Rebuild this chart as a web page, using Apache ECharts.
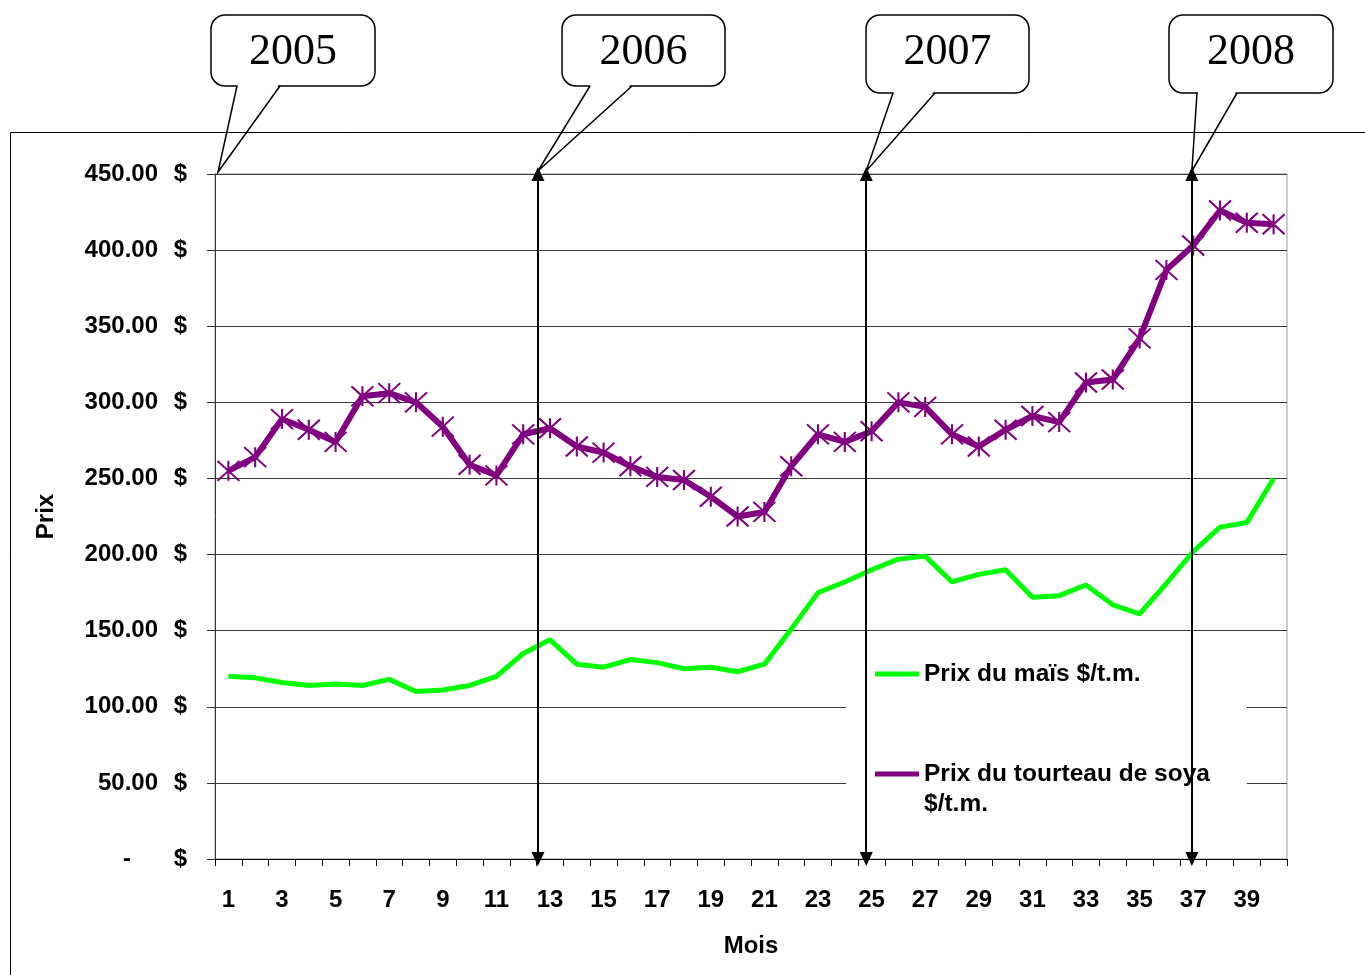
<!DOCTYPE html>
<html><head><meta charset="utf-8">
<script src="https://cdn.jsdelivr.net/npm/echarts@6/dist/echarts.min.js"></script>
<style>html,body{margin:0;padding:0;background:#fff}#c{width:1365px;height:975px}</style>
</head><body><div id="c"></div>
<script>
const months = [1,2,3,4,5,6,7,8,9,10,11,12,13,14,15,16,17,18,19,20,21,22,23,24,25,26,27,28,29,30,31,32,33,34,35,36,37,38,39,40];
const prixMais = [120,119,116,114,115,114,118,110,111,114,120,135,144,128,126,131,129,125,126,123,128,151,175,182,190,197,199,182,187,190,172,173,180,167,161,181,202,218,221,250];
const prixSoya = [255,264,289,282,274,304,306,300,284,259,252,279,283,271,267,258,251,249,238,225,228,258,279,274,281,300,297,279,271,282,291,287,313,315,342,387,403,426,418,417];
const yearLabels = ['2005','2006','2007','2008'];
const yearMarkerMonths = [12.55, 24.8, 36.95];
const nameMais = 'Prix du maïs $/t.m.';
const nameSoya = 'Prix du tourteau de soya $/t.m.';

const FONT = '"Liberation Sans", Arial, sans-serif';
const chart = echarts.init(document.getElementById('c'), null, {renderer:'canvas'});

const option = {
  animation: false,
  backgroundColor: '#fff',
  grid: {left: 215, right: 78, top: 174, bottom: 116, show: true, borderColor: '#999', borderWidth: 1, backgroundColor: 'transparent'},
  legend: {
    orient: 'vertical', left: 846, top: 645, backgroundColor: '#fff',
    padding: [14, 37, 20, 29], itemWidth: 44, itemHeight: 5, itemGap: 40,
    selectedMode: false,
    textStyle: {fontFamily: FONT, fontWeight: 'bold', fontSize: 24.5, color: '#000', lineHeight: 30},
    formatter: n => n === nameSoya ? '\nPrix du tourteau de soya\n$/t.m.' : n,
    data: [
      {name: nameMais, icon: 'rect', itemStyle: {color: '#00ff00', borderWidth: 0}},
      {name: nameSoya, icon: 'rect', itemStyle: {color: '#800080', borderWidth: 0}}
    ]
  },
  xAxis: [{
    type: 'category', data: months, boundaryGap: true,
    name: 'Mois', nameLocation: 'middle', nameGap: 75,
    nameTextStyle: {fontFamily: FONT, fontWeight: 'bold', fontSize: 24, color: '#000'},
    axisLine: {show: true, lineStyle: {color: '#000', width: 1}},
    axisTick: {show: true, interval: 0, length: 7, lineStyle: {color: '#000'}},
    axisLabel: {interval: 1, fontFamily: FONT, fontWeight: 'bold', fontSize: 24, color: '#000', margin: 29},
    splitLine: {show: false}
  }, {
    type: 'value', min: 0.5, max: 40.5, show: false
  }],
  yAxis: {
    type: 'value', min: 0, max: 450, interval: 50,
    name: 'Prix', nameLocation: 'middle', nameGap: 157, nameRotate: 90,
    nameTextStyle: {fontFamily: FONT, fontWeight: 'bold', fontSize: 24, color: '#000'},
    axisLine: {show: true, lineStyle: {color: '#333', width: 1}},
    axisTick: {show: true, length: 8, lineStyle: {color: '#333'}},
    splitLine: {show: true, lineStyle: {color: '#3a3a3a', width: 1}},
    axisLabel: {
      margin: 28,
      formatter: v => v === 0 ? '{z|-}{sp| }{c|$}' : '{n|' + v.toFixed(2) + '}{c|$}',
      rich: {
        n: {width: 100, align: 'right', fontFamily: FONT, fontWeight: 'bold', fontSize: 24, color: '#000'},
        z: {width: 73, align: 'right', fontFamily: FONT, fontWeight: 'bold', fontSize: 24, color: '#000'},
        sp: {width: 27, fontSize: 24},
        c: {width: 29, align: 'right', fontFamily: FONT, fontWeight: 'bold', fontSize: 24, color: '#000'}
      }
    }
  },
  series: [
    {
      name: nameMais, type: 'line', data: prixMais, symbol: 'none', z: 3,
      lineStyle: {color: '#00ff00', width: 5}, itemStyle: {color: '#00ff00'}
    },
    {
      name: nameSoya, type: 'line', data: prixSoya, z: 4,
      symbol: 'path://M0,0 L22,20 M22,0 L0,20 M11,0 L11,20', symbolSize: [22, 20], showAllSymbol: true,
      lineStyle: {color: '#800080', width: 6},
      itemStyle: {color: '#800080', borderColor: '#800080', borderWidth: 2}
    },
    {
      name: 'markers', type: 'line', xAxisIndex: 1, yAxisIndex: 0, data: [], z: 10, silent: true,
      markLine: {
        silent: true, symbol: ['triangle', 'triangle'], symbolSize: [13, 14],
        label: {show: false},
        lineStyle: {color: '#000', width: 2, type: 'solid'},
        emphasis: {disabled: true},
        data: yearMarkerMonths.map(m => ({xAxis: m}))
      }
    }
  ]
};
chart.setOption(option);

// callout annotations
const topY = chart.convertToPixel({yAxisIndex: 0}, 450);
const tips = [[chart.convertToPixel({xAxisIndex: 1}, 0.5) + 3, topY - 2]].concat(
  yearMarkerMonths.map(m => [chart.convertToPixel({xAxisIndex: 1}, m), topY - 3]));
const boxes = [
  {x0: 211, y0: 15, x1: 375, y1: 86, bl: 237, br: 280},
  {x0: 562, y0: 15, x1: 725, y1: 86, bl: 590, br: 632},
  {x0: 866, y0: 15, x1: 1029, y1: 93, bl: 893, br: 935},
  {x0: 1169, y0: 15, x1: 1333, y1: 93, bl: 1197, br: 1237}
];
const g = [];
boxes.forEach((b, i) => {
  const t = tips[i];
  g.push({type: 'rect', z: 20, shape: {x: b.x0, y: b.y0, width: b.x1 - b.x0, height: b.y1 - b.y0, r: 14},
    style: {fill: '#fff', stroke: '#000', lineWidth: 1.5}, silent: true});
  g.push({type: 'polygon', z: 21, shape: {points: [[b.bl + 1, b.y1 - 1.5], [t[0], t[1]], [b.br - 1, b.y1 - 1.5]]},
    style: {fill: '#fff', stroke: null}, silent: true});
  g.push({type: 'polyline', z: 22, shape: {points: [[b.bl, b.y1], [t[0], t[1]], [b.br, b.y1]]},
    style: {fill: null, stroke: '#000', lineWidth: 1.5}, silent: true});
  g.push({type: 'text', z: 23, x: (b.x0 + b.x1) / 2, y: 52, silent: true,
    style: {text: yearLabels[i], align: 'center', verticalAlign: 'middle', fontSize: 44, fontFamily: '"Liberation Serif", "Times New Roman", serif', fill: '#000'}});
});
g.push({type: 'rect', z: 24, silent: true, shape: {x: 10.5, y: 132.5, width: 1400, height: 900},
  style: {fill: null, stroke: '#000', lineWidth: 1}});
chart.setOption({graphic: {elements: g}});
</script>
</body></html>
